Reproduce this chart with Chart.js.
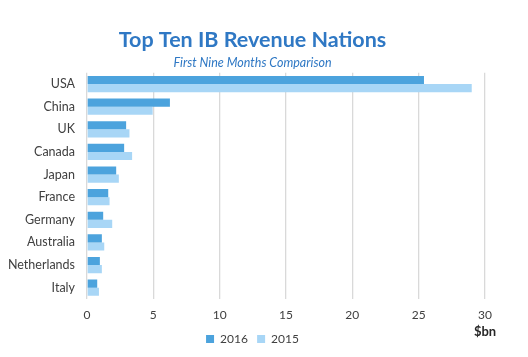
<!DOCTYPE html>
<html><head><meta charset="utf-8">
<script src="https://cdn.jsdelivr.net/npm/chart.js@4/dist/chart.umd.min.js"></script>
<style>html,body{margin:0;padding:0;background:#fff}#wrap{width:528px;height:357px;position:relative}</style>
</head><body><div id="wrap"><canvas id="c" width="528" height="357"></canvas></div>
<script>
const categories = ["USA","China","UK","Canada","Japan","France","Germany","Australia","Netherlands","Italy"];
const values2016 = [25.4, 6.25, 2.95, 2.8, 2.2, 1.6, 1.22, 1.12, 0.97, 0.77];
const values2015 = [29.0, 4.95, 3.2, 3.4, 2.4, 1.7, 1.9, 1.3, 1.12, 0.9];
const seriesLabels = ["2016","2015"];
const xTicks = [0,5,10,15,20,25,30];
const unitLabel = "$bn";
const titleText = "Top Ten IB Revenue Nations";
const subtitleText = "First Nine Months Comparison";

const FONT = "Lato, 'Open Sans', sans-serif";
const unitPlugin = {
  id: 'unitLabel',
  afterDraw(chart) {
    const x = chart.scales.x;
    const ctx = chart.ctx;
    ctx.save();
    ctx.font = "bold 13px " + FONT;
    ctx.fillStyle = "#262626";
    ctx.textAlign = "center";
    ctx.textBaseline = "middle";
    ctx.fillText(unitLabel, x.getPixelForValue(xTicks[xTicks.length-1]), 332);
    ctx.restore();
  }
};

new Chart(document.getElementById('c'), {
  type: 'bar',
  data: {
    labels: categories,
    datasets: [
      {label: seriesLabels[0], data: values2016, backgroundColor: '#4ca3dd', borderWidth: 0},
      {label: seriesLabels[1], data: values2015, backgroundColor: '#a8d6f6', borderWidth: 0}
    ]
  },
  options: {
    indexAxis: 'y',
    responsive: false,
    animation: false,
    devicePixelRatio: 1,
    layout: {padding: {left: 0, right: 23, top: 0, bottom: 2}},
    datasets: {bar: {categoryPercentage: 0.72, barPercentage: 1.0}},
    scales: {
      x: {
        min: 0, max: 30,
        afterBuildTicks(scale) { scale.ticks = xTicks.map(v => ({value: v})); },
        afterFit(scale) { scale.paddingRight = 43; scale.height = 34; },
        grid: {color: '#d9d9d9', lineWidth: 1.3, drawTicks: false},
        border: {display: false},
        ticks: {color: '#404040', font: {family: FONT, size: 12}, padding: 9}
      },
      y: {
        grid: {display: false, drawTicks: false},
        border: {display: false},
        ticks: {color: '#404040', font: {family: FONT, size: 12.5}, padding: 12},
        afterFit(scale) { scale.width = 87; }
      }
    },
    plugins: {
      title: {display: true, text: titleText, color: '#2f78c4', font: {family: FONT, size: 21.5, weight: 'bold'}, padding: {top: 27, bottom: 3}},
      subtitle: {display: true, text: subtitleText, color: '#2f78c4', font: {family: FONT, size: 12.5, style: 'italic'}, padding: {top: 0, bottom: 2}},
      legend: {position: 'bottom', labels: {color: '#404040', font: {family: FONT, size: 12}, boxWidth: 8, boxHeight: 8, padding: 0,
        generateLabels(chart) {
          const items = Chart.defaults.plugins.legend.labels.generateLabels(chart);
          items.forEach((it, i) => { if (i < items.length - 1) it.text = it.text + '   '; });
          return items;
        }}},
      tooltip: {enabled: false}
    }
  },
  plugins: [unitPlugin]
});
</script></body></html>
